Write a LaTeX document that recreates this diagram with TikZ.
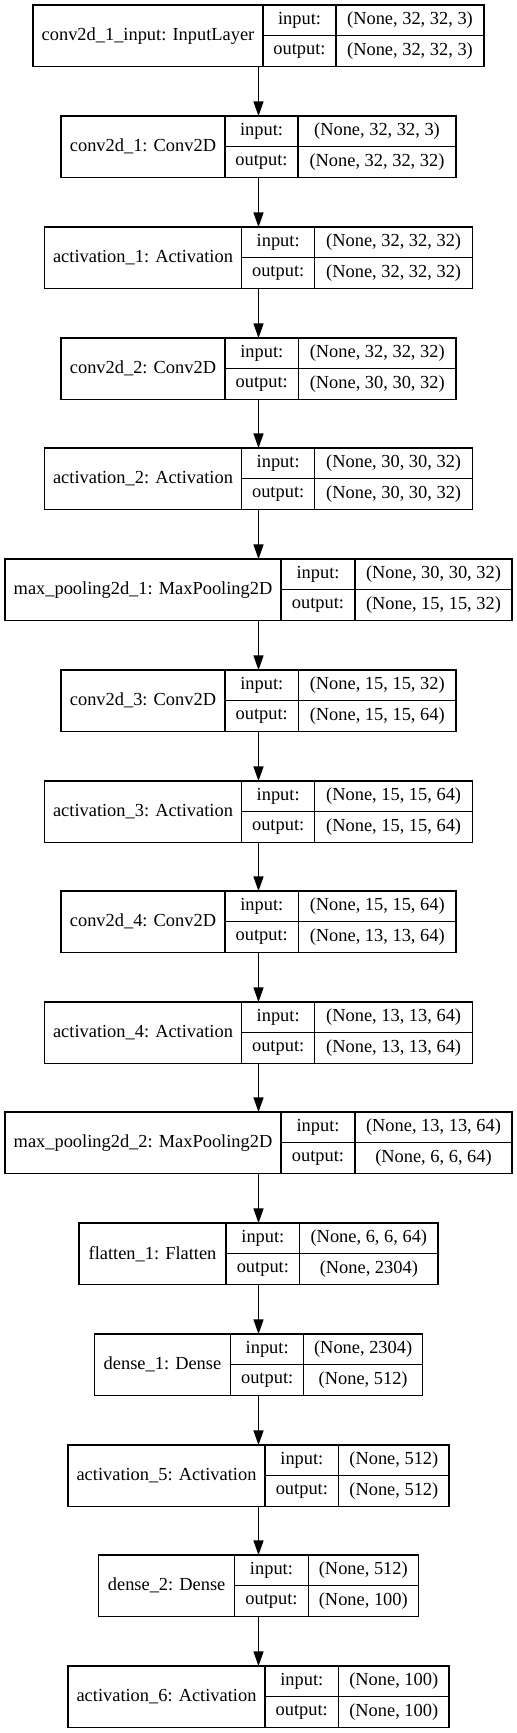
\documentclass[tikz,border=0pt]{standalone}
\usepackage{fontspec}
\setmainfont{Liberation Serif}
\usetikzlibrary{arrows.meta}
\begin{document}
\begin{tikzpicture}[x=0.75pt, y=-0.75pt,
    every node/.style={font=\fontsize{13.8}{16}\selectfont},
    layerbox/.style={inner sep=0pt, outer sep=0pt, minimum height=46.12pt},
    cell/.style={draw=black, line width=0.9pt, inner sep=0pt, outer sep=0pt, anchor=north west, minimum height=23.06pt},
    link/.style={-{Triangle[length=10.9pt, width=7.5pt]}, line width=0.9pt}]
    \fill[white] (0,0) rectangle (517,1733);
    \useasboundingbox (0,0) rectangle (517,1733);
    \foreach \nm/\ty/\xa/\xb/\xc/\xd/\lbl/\shin/\shout in {%
        input/5/33/263/336/484/{conv2d\_1\_input: InputLayer}/{(None, 32, 32, 3)}/{(None, 32, 32, 3)},%
        conv1/116/61/225/298/456/{conv2d\_1: Conv2D}/{(None, 32, 32, 3)}/{(None, 32, 32, 32)},%
        act1/227/44.7/241.7/315/472.7/{activation\_1: Activation}/{(None, 32, 32, 32)}/{(None, 32, 32, 32)},%
        conv2/338/61/225/298.5/456/{conv2d\_2: Conv2D}/{(None, 32, 32, 32)}/{(None, 30, 30, 32)},%
        act2/448/44.7/241.7/315/472.7/{activation\_2: Activation}/{(None, 30, 30, 32)}/{(None, 30, 30, 32)},%
        pool1/559/5/281/355/512/{max\_pooling2d\_1: MaxPooling2D}/{(None, 30, 30, 32)}/{(None, 15, 15, 32)},%
        conv3/670/61/225/298.5/456/{conv2d\_3: Conv2D}/{(None, 15, 15, 32)}/{(None, 15, 15, 64)},%
        act3/781/44.7/241.7/315/472.7/{activation\_3: Activation}/{(None, 15, 15, 64)}/{(None, 15, 15, 64)},%
        conv4/891/61/225/298.5/456/{conv2d\_4: Conv2D}/{(None, 15, 15, 64)}/{(None, 13, 13, 64)},%
        act4/1002/44.7/241.7/315/472.7/{activation\_4: Activation}/{(None, 13, 13, 64)}/{(None, 13, 13, 64)},%
        pool2/1112/5/281/355/512/{max\_pooling2d\_2: MaxPooling2D}/{(None, 13, 13, 64)}/{(None, 6, 6, 64)},%
        flat/1223/79/226/299.7/438/{flatten\_1: Flatten}/{(None, 6, 6, 64)}/{(None, 2304)},%
        dense1/1334/94.7/230.7/304/422.7/{dense\_1: Dense}/{(None, 2304)}/{(None, 512)},%
        act5/1445/68/265/338.7/449/{activation\_5: Activation}/{(None, 512)}/{(None, 512)},%
        dense2/1555/98.7/235/308.3/418.7/{dense\_2: Dense}/{(None, 512)}/{(None, 100)},%
        act6/1666/68/265/338.5/449/{activation\_6: Activation}/{(None, 100)}/{(None, 100)}%
    }{
        \pgfmathsetmacro\wa{(\xb-\xa)*0.75}
        \pgfmathsetmacro\wb{(\xc-\xb)*0.75}
        \pgfmathsetmacro\wc{(\xd-\xc)*0.75}
        \pgfmathsetmacro\wt{(\xd-\xa)*0.75}
        \node[layerbox, minimum width=\wt pt] (\nm) at (258.5,\ty+30.75) {};
        \node[cell, minimum width=\wa pt, minimum height=46.12pt] (\nm-name) at (\nm.north west) {\lbl};
        \node[cell, minimum width=\wb pt] (\nm-inl) at (\nm-name.north east) {input:};
        \node[cell, minimum width=\wb pt] (\nm-outl) at (\nm-inl.south west) {output:};
        \node[cell, minimum width=\wc pt] (\nm-in) at (\nm-inl.north east) {\shin};
        \node[cell, minimum width=\wc pt] (\nm-out) at (\nm-in.south west) {\shout};
    }
    \foreach \p/\q in {input/conv1,conv1/act1,act1/conv2,conv2/act2,act2/pool1,pool1/conv3,conv3/act3,act3/conv4,conv4/act4,act4/pool2,pool2/flat,flat/dense1,dense1/act5,act5/dense2,dense2/act6}
        \draw[link] (\p) -- (\q);
\end{tikzpicture}
\end{document}
